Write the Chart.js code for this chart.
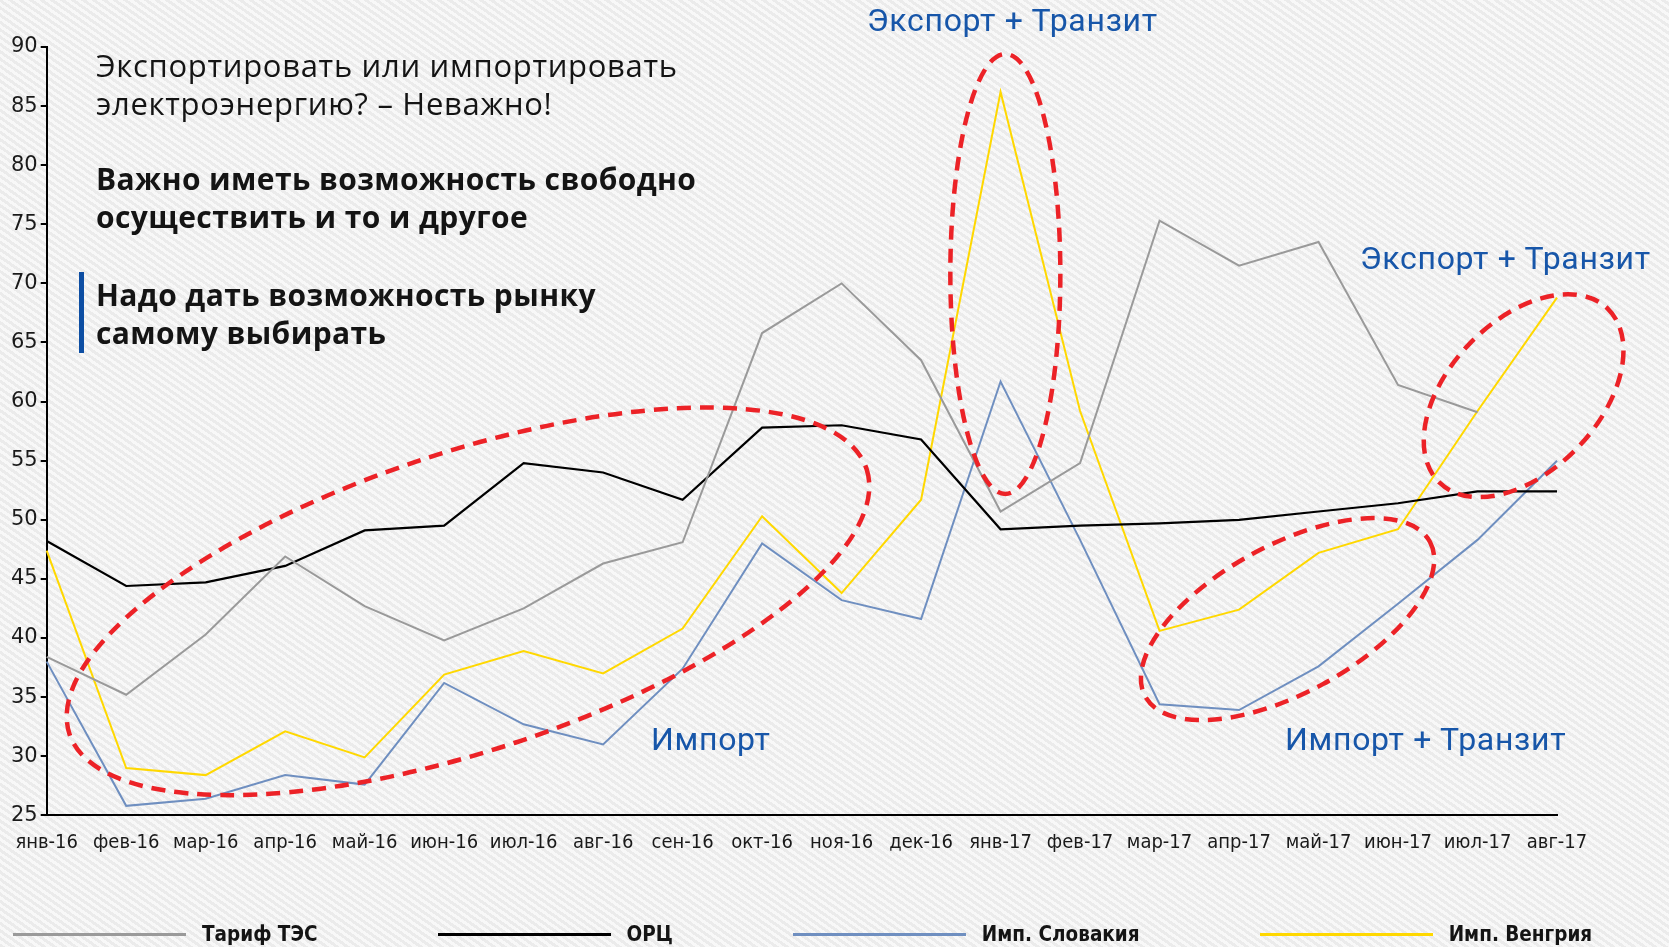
<!DOCTYPE html>
<html>
<head>
<meta charset="utf-8">
<script src="https://cdn.jsdelivr.net/npm/chart.js@4.4.1/dist/chart.umd.min.js"></script>
<style>
html,body{margin:0;padding:0;}
body{width:1669px;height:947px;overflow:hidden;position:relative;
  background:repeating-linear-gradient(35deg,#ebebeb 0px,#ebebeb 3px,#f8f8f8 3px,#f8f8f8 6px);}
#c{position:absolute;left:0;top:0;}
.t{position:absolute;white-space:nowrap;color:#141414;}
.reg{font-family:'Open Sans',Roboto,sans-serif;font-size:31px;line-height:38px;font-weight:400;letter-spacing:0.7px;}
.bold{font-family:'Open Sans',Roboto,sans-serif;font-size:30px;line-height:38px;font-weight:700;letter-spacing:0.4px;}
.blue{font-family:Roboto,'Open Sans',sans-serif;font-size:32px;line-height:40px;color:#1756a9;font-weight:400;letter-spacing:0.7px;}
#bar{position:absolute;left:79px;top:272px;width:5px;height:81px;background:#0d4ea3;}
#legend{position:absolute;left:13px;top:920px;height:28px;display:flex;align-items:center;gap:120px;
  font-family:'DejaVu Sans Condensed','Liberation Sans Narrow','DejaVu Sans',sans-serif;font-weight:700;font-size:20.5px;color:#141414;}
.li{display:flex;align-items:center;}
.ll{width:173px;height:3px;margin-right:16px;}
</style>
</head>
<body>
<canvas id="c" width="1669" height="947"></canvas>

<div class="t reg" style="left:96px;top:46px;">Экспортировать или импортировать<br>электроэнергию? – Неважно!</div>
<div class="t bold" style="left:96px;top:160px;">Важно иметь возможность свободно<br>осуществить и то и другое</div>
<div id="bar"></div>
<div class="t bold" style="left:96px;top:276px;">Надо дать возможность рынку<br>самому выбирать</div>

<div class="t blue" style="left:867px;top:0px;">Экспорт + Транзит</div>
<div class="t blue" style="left:1360px;top:238px;">Экспорт + Транзит</div>
<div class="t blue" style="left:651px;top:719px;">Импорт</div>
<div class="t blue" style="left:1285px;top:719px;">Импорт + Транзит</div>

<div id="legend"></div>

<script>
// ---- data ----
const categories = ['янв-16','фев-16','мар-16','апр-16','май-16','июн-16','июл-16','авг-16','сен-16','окт-16',
  'ноя-16','дек-16','янв-17','фев-17','мар-17','апр-17','май-17','июн-17','июл-17','авг-17'];
const tarifTES    = [38.4, 35.2, 40.3, 46.9, 42.7, 39.8, 42.5, 46.3, 48.1, 65.8, 70.0, 63.5, 50.7, 54.8, 75.3, 71.5, 73.5, 61.4, 59.1, null];
const orc         = [48.2, 44.4, 44.7, 46.1, 49.1, 49.5, 54.8, 54.0, 51.7, 57.8, 58.0, 56.8, 49.2, 49.5, 49.7, 50.0, 50.7, 51.4, 52.4, 52.4];
const impSlovakia = [38.0, 25.8, 26.4, 28.4, 27.6, 36.2, 32.7, 31.0, 37.4, 48.0, 43.2, 41.6, 61.7, 48.3, 34.4, 33.9, 37.6, 42.9, 48.3, 55.0];
const impHungary  = [47.4, 29.0, 28.4, 32.1, 29.9, 36.9, 38.9, 37.0, 40.8, 50.3, 43.8, 51.7, 86.2, 59.2, 40.6, 42.4, 47.2, 49.2, 59.2, 68.8];
const seriesNames = ['Тариф ТЭС', 'ОРЦ', 'Имп. Словакия', 'Имп. Венгрия'];
const yMin = 25, yMax = 90, yStep = 5;

// ---- annotation ellipses (centres in data space) ----
const ellipses = [
  {cx: 5.30,  cy: 43.1, rx: 420, ry: 149, rot: -18.4},
  {cx: 12.06, cy: 70.8, rx: 55,  ry: 220, rot: 0},
  {cx: 15.61, cy: 41.6, rx: 162, ry: 74,  rot: -28.5},
  {cx: 18.58, cy: 60.5, rx: 121, ry: 75,  rot: -46}
];

const colors = ['#9a9a9a', '#000000', '#6f8fc0', '#ffd800'];
const widths = [2, 2.2, 2, 2];
const seriesData = [tarifTES, orc, impSlovakia, impHungary];

const ellipsePlugin = {
  id: 'ellipses',
  afterDatasetsDraw(chart) {
    const {ctx, scales: {x, y}} = chart;
    ctx.save();
    ctx.strokeStyle = '#ec2227';
    ctx.lineWidth = 4.5;
    ctx.setLineDash([14, 9]);
    for (const e of ellipses) {
      ctx.beginPath();
      ctx.ellipse(x.getPixelForValue(e.cx), y.getPixelForValue(e.cy), e.rx, e.ry, e.rot * Math.PI / 180, 0, 2 * Math.PI);
      ctx.stroke();
    }
    ctx.restore();
  }
};

const tickFont = {family: "'DejaVu Sans Condensed','Liberation Sans Narrow','DejaVu Sans',sans-serif", size: 20};

const chart = new Chart(document.getElementById('c'), {
  type: 'line',
  data: {
    labels: categories,
    datasets: seriesData.map((d, i) => ({
      label: seriesNames[i],
      data: d,
      borderColor: colors[i],
      backgroundColor: colors[i],
      borderWidth: widths[i],
      pointRadius: 0,
      tension: 0,
      fill: false
    }))
  },
  options: {
    responsive: false,
    animation: false,
    layout: {padding: {top: 47, right: 112, left: 0, bottom: 0}},
    plugins: {legend: {display: false}, tooltip: {enabled: false}},
    scales: {
      x: {
        offset: false,
        grid: {display: true, drawOnChartArea: false, drawTicks: false},
        border: {display: true, color: '#000', width: 2},
        ticks: {color: '#1a1a1a', font: tickFont, padding: 15, autoSkip: false, maxRotation: 0, minRotation: 0},
        afterFit: (s) => { s.height = 131.7; }
      },
      y: {
        min: yMin, max: yMax,
        grid: {display: true, drawOnChartArea: false, drawTicks: true, tickLength: 6, color: '#000', lineWidth: 2},
        border: {display: true, color: '#000', width: 2},
        ticks: {stepSize: yStep, color: '#1a1a1a', padding: 3,
          font: {family: "'DejaVu Sans',sans-serif", size: 21}},
        afterFit: (s) => { s.width = 46.7; }
      }
    }
  },
  plugins: [ellipsePlugin]
});

// ---- legend from the chart's datasets ----
const lg = document.getElementById('legend');
chart.data.datasets.forEach(ds => {
  const it = document.createElement('div'); it.className = 'li';
  const ln = document.createElement('div'); ln.className = 'll'; ln.style.background = ds.borderColor;
  const tx = document.createElement('span'); tx.textContent = ds.label;
  it.appendChild(ln); it.appendChild(tx); lg.appendChild(it);
});
</script>
</body>
</html>
